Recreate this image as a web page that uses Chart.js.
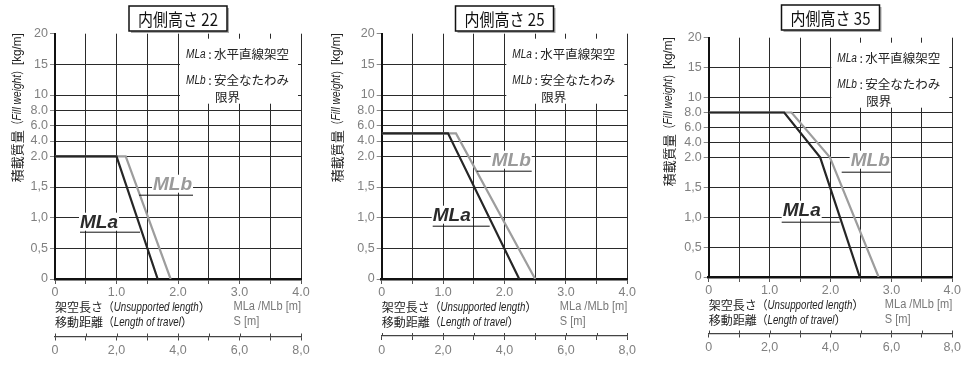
<!DOCTYPE html>
<html lang="ja">
<head>
<meta charset="utf-8">
<title>積載質量</title>
<script src="https://cdn.jsdelivr.net/npm/chart.js@4.4.1/dist/chart.umd.min.js"></script>
<style>
  html, body { margin: 0; padding: 0; background: #fff; }
  #wrap { position: relative; width: 966px; height: 367px; overflow: hidden; }
  #wrap canvas { position: absolute; top: 0; }
</style>
</head>
<body>
<div id="wrap">
  <canvas id="c0" width="322" height="367" style="left:0px"></canvas>
  <canvas id="c1" width="322" height="367" style="left:322px"></canvas>
  <canvas id="c2" width="322" height="367" style="left:644px"></canvas>
</div>
<script>
const panelTitles = ['内側高さ 22', '内側高さ 25', '内側高さ 35'];

// y ticks of the broken axis (kg/m)
const yTicks = [0, 0.5, 1.0, 1.5, 2.0, 4.0, 6.0, 8.0, 10, 15, 20];
const yTickLabels = ['0', '0,5', '1,0', '1,5', '2.0', '4.0', '6.0', '8.0', '10', '15', '20'];
const xTickLabels = ['0', '1.0', '2.0', '3.0', '4.0'];   // MLa / MLb [m]
const sTickLabels = ['0', '2,0', '4,0', '6,0', '8,0'];   // S [m]

// MLa : 水平直線架空
const mlaX22 = [0, 1.0, 1.67];
const mlaY22 = [2.0, 2.0, 0];
const mlaX25 = [0, 1.08, 2.24];
const mlaY25 = [5.0, 5.0, 0];
const mlaX35 = [0, 1.24, 1.83, 2.48];
const mlaY35 = [8.0, 8.0, 2.0, 0];

// MLb : 安全なたわみ限界
const mlbX22 = [0, 1.15, 1.88];
const mlbY22 = [2.0, 2.0, 0];
const mlbX25 = [0, 1.21, 2.5];
const mlbY25 = [5.0, 5.0, 0];
const mlbX35 = [0, 1.36, 1.99, 2.79];
const mlbY35 = [8.0, 8.0, 2.0, 0];

const series = [
  { mlaX: mlaX22, mlaY: mlaY22, mlbX: mlbX22, mlbY: mlbY22 },
  { mlaX: mlaX25, mlaY: mlaY25, mlbX: mlbX25, mlbY: mlbY25 },
  { mlaX: mlaX35, mlaY: mlaY35, mlbX: mlbX35, mlbY: mlbY35 }
];

// page geometry of each plot (px)
const geom = [
  { cl: 0,   left: 55,    right: 301,   top: 33.7, bottom: 279, axis2: 336.5, titleTop: 6, yTitleDx: 38 },
  { cl: 322, left: 381.7, right: 627.3, top: 33.7, bottom: 279, axis2: 336,   titleTop: 6, yTitleDx: 45 },
  { cl: 644, left: 708.7, right: 952.3, top: 37.7, bottom: 277, axis2: 333.5, titleTop: 5, yTitleDx: 40 }
];

// label / leader positions, relative to chart area left/top
const callouts = [
  { a: { tx: 25, ty: 188, x1: 25, x2: 85, ly: 198 },  b: { tx: 98,  ty: 150, x1: 84,  x2: 138, ly: 161 } },
  { a: { tx: 51, ty: 181, x1: 51, x2: 108, ly: 192 }, b: { tx: 110, ty: 126, x1: 95,  x2: 150, ly: 137 } },
  { a: { tx: 74, ty: 172, x1: 73, x2: 131, ly: 184 }, b: { tx: 142, ty: 122, x1: 133, x2: 182, ly: 134 } }
];

const cjk = s => `${s}px "Noto Sans CJK JP", sans-serif`;
const latin = s => `${s}px "Liberation Sans", Arial, sans-serif`;
const italic = s => `italic ${s}px "Liberation Sans", Arial, sans-serif`;

// gap between neighbouring y ticks in grid units (2.0 .. 10 is squeezed)
const yGaps = [1, 1, 1, 1, 0.5, 0.5, 0.5, 0.5, 1, 1];
const yTotal = yGaps.reduce((a, b) => a + b, 0);

function splitPos(v) {
  let pos = 0;
  for (let i = 0; i < yTicks.length - 1; i++) {
    const lo = yTicks[i], hi = yTicks[i + 1];
    if (v <= hi || i === yTicks.length - 2) {
      return pos + (v - lo) / (hi - lo) * yGaps[i];
    }
    pos += yGaps[i];
  }
  return pos;
}

function splitValue(pos) {
  let acc = 0;
  for (let i = 0; i < yGaps.length; i++) {
    if (pos <= acc + yGaps[i] || i === yGaps.length - 1) {
      return yTicks[i] + (pos - acc) / yGaps[i] * (yTicks[i + 1] - yTicks[i]);
    }
    acc += yGaps[i];
  }
  return yTicks[yTicks.length - 1];
}

class SplitScale extends Chart.LinearScale {
  static id = 'split';
  static defaults = {};
  buildTicks() {
    this.start = this.min;
    this.end = this.max;
    return yTicks.map(v => ({ value: v }));
  }
  getPixelForValue(value) {
    if (value === null || value === undefined || isNaN(value)) return NaN;
    return this.getPixelForDecimal(splitPos(value) / yTotal);
  }
  getValueForPixel(pixel) {
    return splitValue(this.getDecimalForPixel(pixel) * yTotal);
  }
}
Chart.register(SplitScale);

// text pieces in mixed fonts, some squeezed horizontally (sx)
function drawRuns(ctx, runs, x, y, align) {
  let total = 0;
  runs.forEach(r => {
    ctx.font = r.font;
    r.w = ctx.measureText(r.text).width * (r.sx || 1);
    total += r.w;
  });
  let cx = align === 'center' ? x - total / 2 : x;
  ctx.textAlign = 'left';
  runs.forEach(r => {
    ctx.save();
    ctx.font = r.font;
    ctx.translate(cx, y);
    ctx.scale(r.sx || 1, 1);
    ctx.fillText(r.text, 0, 0);
    ctx.restore();
    cx += r.w;
  });
}

function callout(ctx, a, c, text, color) {
  ctx.font = `italic bold 19px "Liberation Sans", Arial, sans-serif`;
  const w = ctx.measureText(text).width;
  const x = a.left + c.tx, y = a.top + c.ty;
  ctx.fillStyle = '#fff';
  ctx.fillRect(x - 1, y - 9, w + 2, 18);
  ctx.fillStyle = color;
  ctx.textAlign = 'left';
  ctx.textBaseline = 'middle';
  ctx.fillText(text, x, y + 1);
  ctx.strokeStyle = '#111';
  ctx.lineWidth = 1;
  ctx.beginPath();
  ctx.moveTo(a.left + c.x1, a.top + c.ly + 0.5);
  ctx.lineTo(a.left + c.x2, a.top + c.ly + 0.5);
  ctx.stroke();
}

function makeDecor(i) {
  const g = geom[i];
  return {
    id: 'decor' + i,
    afterDraw(chart) {
      const { ctx, chartArea: a } = chart;
      ctx.save();
      ctx.textBaseline = 'middle';

      // boxed panel title
      const cx = (a.left + a.right) / 2, bw = 98, bh = 25, by = g.titleTop;
      ctx.fillStyle = '#aaa';
      ctx.fillRect(cx - bw / 2 + 2, by + 2, bw, bh);
      ctx.fillStyle = '#fff';
      ctx.fillRect(cx - bw / 2, by, bw, bh);
      ctx.strokeStyle = '#111';
      ctx.lineWidth = 1.5;
      ctx.strokeRect(cx - bw / 2, by, bw, bh);
      ctx.font = cjk(17);
      const tw = ctx.measureText(panelTitles[i]).width;
      ctx.save();
      ctx.translate(cx, by + bh / 2 + 1);
      ctx.scale(Math.min(1, 80 / tw), 1);
      ctx.fillStyle = '#111';
      ctx.textAlign = 'center';
      ctx.fillText(panelTitles[i], 0, 0);
      ctx.restore();

      // legend box
      ctx.fillStyle = '#fff';
      ctx.fillRect(a.right - 121, a.top + 5, 118, 65);
      ctx.fillStyle = '#222';
      drawRuns(ctx, [{ text: 'MLa', font: italic(12), sx: 0.84 }], a.right - 115, a.top + 21, 'left');
      drawRuns(ctx, [{ text: 'MLb', font: italic(12), sx: 0.84 }], a.right - 115, a.top + 47, 'left');
      ctx.font = cjk(12.5);
      ctx.textAlign = 'center';
      ctx.fillText(':', a.right - 91, a.top + 21);
      ctx.fillText(':', a.right - 91, a.top + 47);
      ctx.textAlign = 'left';
      ctx.fillText('水平直線架空', a.right - 87, a.top + 21);
      ctx.fillText('安全なたわみ', a.right - 87, a.top + 47);
      ctx.fillText('限界', a.right - 86, a.top + 64);

      // MLa / MLb call-outs
      const c = callouts[i];
      callout(ctx, a, c.a, 'MLa', '#2a2a2a');
      callout(ctx, a, c.b, 'MLb', '#9a9a9a');

      // y title (rotated)
      ctx.save();
      ctx.translate(a.left - g.yTitleDx, a.top + 74);
      ctx.rotate(-Math.PI / 2);
      ctx.fillStyle = '#222';
      drawRuns(ctx, [
        { text: '積載質量', font: cjk(13) },
        { text: '（', font: cjk(13), sx: 0.75 },
        { text: 'Fill weight', font: italic(13.5), sx: 0.76 },
        { text: '）', font: cjk(13), sx: 0.75 },
        { text: '[kg/m]', font: latin(13), sx: 0.9 }
      ], 0, 0, 'center');
      ctx.restore();

      // x titles
      ctx.fillStyle = '#222';
      drawRuns(ctx, [
        { text: '架空長さ', font: cjk(12) },
        { text: '（', font: cjk(12), sx: 0.9 },
        { text: 'Unsupported length', font: italic(13.5), sx: 0.72 },
        { text: '）', font: cjk(12) }
      ], a.left, a.bottom + 28, 'left');
      drawRuns(ctx, [
        { text: '移動距離', font: cjk(12) },
        { text: '（', font: cjk(12), sx: 0.9 },
        { text: 'Length of travel', font: italic(13.5), sx: 0.72 },
        { text: '）', font: cjk(12) }
      ], a.left, a.bottom + 43, 'left');

      ctx.fillStyle = '#777';
      ctx.font = latin(12);
      const uw = ctx.measureText('MLa /MLb [m]').width * 0.92;
      drawRuns(ctx, [{ text: 'MLa /MLb [m]', font: latin(12), sx: 0.92 }], a.right - uw, a.bottom + 28, 'left');
      drawRuns(ctx, [{ text: 'S [m]', font: latin(12), sx: 0.92 }], a.right - uw, a.bottom + 43, 'left');

      // small upward ticks on the S axis
      const s = chart.scales.x2;
      ctx.strokeStyle = '#444';
      ctx.lineWidth = 1;
      s.ticks.forEach((t, j) => {
        const px = Math.round(s.getPixelForTick(j)) + 0.5;
        ctx.beginPath();
        ctx.moveTo(px, s.top - 3);
        ctx.lineTo(px, s.top);
        ctx.stroke();
      });
      ctx.restore();
    }
  };
}

function makePanel(i) {
  const g = geom[i];
  const d = series[i];
  const W = 322, H = 367;
  const tickFont = { family: '"Liberation Sans", Arial, sans-serif', size: 12.5 };

  new Chart(document.getElementById('c' + i), {
    type: 'line',
    data: {
      datasets: [
        {
          label: 'MLa',
          data: d.mlaX.map((x, k) => ({ x, y: d.mlaY[k] })),
          borderColor: '#262626',
          borderWidth: 2.2,
          pointRadius: 0,
          tension: 0
        },
        {
          label: 'MLb',
          data: d.mlbX.map((x, k) => ({ x, y: d.mlbY[k] })),
          borderColor: '#9d9d9d',
          borderWidth: 2.2,
          pointRadius: 0,
          tension: 0
        }
      ]
    },
    options: {
      responsive: false,
      animation: false,
      events: [],
      layout: {
        padding: { left: 0, top: g.top, right: W - (g.right - g.cl), bottom: 0 }
      },
      plugins: { legend: { display: false }, tooltip: { enabled: false } },
      scales: {
        x: {
          type: 'linear',
          position: 'bottom',
          weight: 0,
          min: 0,
          max: 4,
          afterFit: s => { s.height = g.axis2 - g.bottom; },
          grid: { color: '#2a2a2a', lineWidth: 1, tickLength: 5, tickColor: '#555' },
          border: { color: '#111', width: 2.5 },
          ticks: {
            stepSize: 0.5,
            autoSkip: false,
            maxRotation: 0,
            padding: 1,
            color: '#808080',
            font: tickFont,
            callback: v => (v % 1 === 0 ? xTickLabels[v] : '')
          }
        },
        x2: {
          type: 'linear',
          position: 'bottom',
          weight: 1,
          min: 0,
          max: 8,
          afterFit: s => { s.height = H - g.axis2; },
          grid: { drawOnChartArea: false, color: '#444', tickLength: 4 },
          border: { color: '#444', width: 1.2 },
          ticks: {
            stepSize: 1,
            autoSkip: false,
            maxRotation: 0,
            padding: 3,
            color: '#808080',
            font: tickFont,
            callback: v => (v % 2 === 0 ? sTickLabels[v / 2] : '')
          }
        },
        y: {
          type: 'split',
          position: 'left',
          min: 0,
          max: 20,
          afterFit: s => { s.width = g.left - g.cl; },
          grid: {
            color: c => (c.tick && c.tick.value === 20 ? 'rgba(0,0,0,0)' : '#2a2a2a'),
            lineWidth: 1,
            tickLength: 5,
            tickColor: '#888'
          },
          border: { color: '#111', width: 2 },
          ticks: {
            autoSkip: false,
            padding: 2,
            color: '#808080',
            font: tickFont,
            callback: (v, k) => yTickLabels[k]
          }
        }
      }
    },
    plugins: [makeDecor(i)]
  });
}

[0, 1, 2].forEach(makePanel);
</script>
</body>
</html>
